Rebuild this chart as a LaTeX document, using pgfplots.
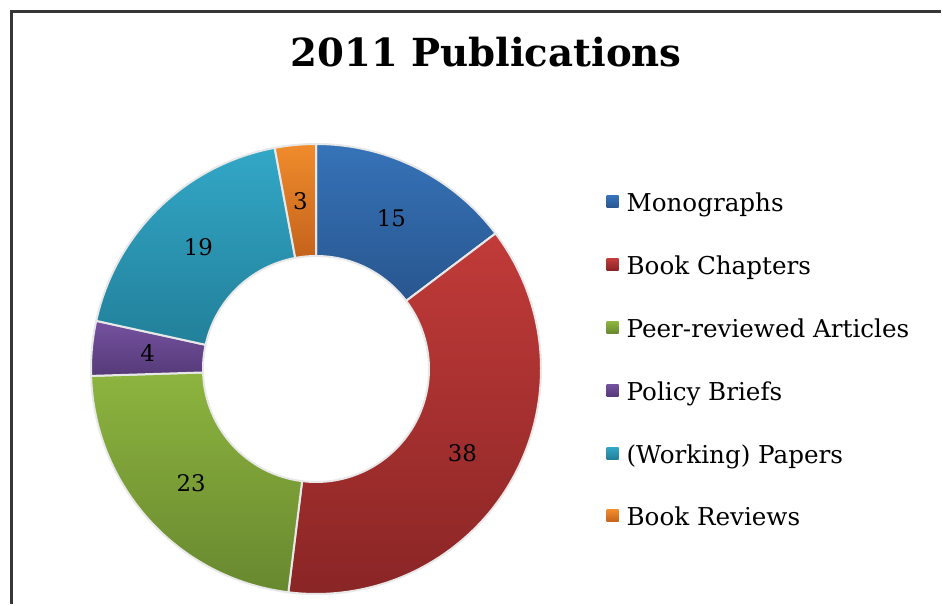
\documentclass[border=0pt]{standalone}
\usepackage{pgfplots}
\pgfplotsset{compat=1.18}
\usepackage{pgfplotstable}
\usepackage{fontspec}
\setmainfont{DejaVu Serif}
\definecolor{blueT}{HTML}{3673B8}
\definecolor{blueB}{HTML}{28568F}
\definecolor{redT}{HTML}{C13B39}
\definecolor{redB}{HTML}{892525}
\definecolor{greenT}{HTML}{8DB43F}
\definecolor{greenB}{HTML}{68882F}
\definecolor{purpleT}{HTML}{7552A0}
\definecolor{purpleB}{HTML}{553A78}
\definecolor{tealT}{HTML}{33A7C7}
\definecolor{tealB}{HTML}{22809A}
\definecolor{orangeT}{HTML}{F08C2C}
\definecolor{orangeB}{HTML}{C4621C}
\definecolor{sepcol}{HTML}{E8E8E8}
\definecolor{framecol}{HTML}{363636}

\pgfplotstableread{
idx value
0 15
1 38
2 23
3 4
4 19
5 3
}\pubtable

\newcommand\slice[4]{%
  \path[top color=#3, bottom color=#4, draw=sepcol, line width=0.04cm, line join=round]
    ([shift={(#1:4.5cm)}]axis cs:316,-369) arc[start angle=#1, end angle=#2, radius=4.5cm]
    -- ([shift={(#2:2.26cm)}]axis cs:316,-369) arc[start angle=#2, end angle=#1, radius=2.26cm] -- cycle;}
\newcommand\slicelabel[3]{%
  \node[font=\fontsize{13pt}{15pt}\selectfont, inner sep=0pt] at ([shift={({(#1+#2)/2}:3.38cm)}]axis cs:316,-369) {#3};}

\begin{document}
\begin{tikzpicture}
\pgfplotstablegetelem{0}{value}\of\pubtable \let\vA\pgfplotsretval
\pgfplotstablegetelem{1}{value}\of\pubtable \let\vB\pgfplotsretval
\pgfplotstablegetelem{2}{value}\of\pubtable \let\vC\pgfplotsretval
\pgfplotstablegetelem{3}{value}\of\pubtable \let\vD\pgfplotsretval
\pgfplotstablegetelem{4}{value}\of\pubtable \let\vE\pgfplotsretval
\pgfplotstablegetelem{5}{value}\of\pubtable \let\vF\pgfplotsretval
\pgfmathsetmacro\tot{\vA+\vB+\vC+\vD+\vE+\vF}
\pgfmathsetmacro\aA{90}
\pgfmathsetmacro\aB{\aA-\vA*360/\tot}
\pgfmathsetmacro\aC{\aB-\vB*360/\tot}
\pgfmathsetmacro\aD{\aC-\vC*360/\tot}
\pgfmathsetmacro\aE{\aD-\vD*360/\tot}
\pgfmathsetmacro\aF{\aE-\vE*360/\tot}
\pgfmathsetmacro\aG{\aF-\vF*360/\tot}
\begin{axis}[
  scale only axis, width=18.86cm, height=12.08cm,
  xmin=0, xmax=943, ymin=-604, ymax=0,
  hide axis, clip=false,
  legend style={at={(axis cs:601,-190)}, anchor=north west, draw=none, fill=none,
    font=\fontsize{14pt}{16pt}\selectfont, row sep=0.756cm, column sep=0.16cm,
    nodes={inner sep=0pt, text height=0.36cm, text depth=0.14cm}},
  legend cell align=left,
  legend image code/.code={\path[#1] (0cm,-0.03cm) rectangle (0.24cm,0.21cm);},
]
\path (axis cs:0,0) rectangle (axis cs:943,-604);
\draw[framecol, line width=0.054cm] (axis cs:941,-11.3) -- (axis cs:11.3,-11.3) -- (axis cs:11.3,-604);
\node[anchor=base, font=\fontsize{22pt}{26pt}\selectfont\bfseries] at (axis cs:486,-67) {2011 Publications};
\slice{\aA}{\aB}{blueT}{blueB}
\slice{\aB}{\aC}{redT}{redB}
\slice{\aC}{\aD}{greenT}{greenB}
\slice{\aD}{\aE}{purpleT}{purpleB}
\slice{\aE}{\aF}{tealT}{tealB}
\slice{\aF}{\aG}{orangeT}{orangeB}
\slicelabel{\aA}{\aB}{\vA}
\slicelabel{\aB}{\aC}{\vB}
\slicelabel{\aC}{\aD}{\vC}
\slicelabel{\aD}{\aE}{\vD}
\slicelabel{\aE}{\aF}{\vE}
\slicelabel{\aF}{\aG}{\vF}
\addlegendimage{top color=blueT, bottom color=blueB, draw=none}
\addlegendimage{top color=redT, bottom color=redB, draw=none}
\addlegendimage{top color=greenT, bottom color=greenB, draw=none}
\addlegendimage{top color=purpleT, bottom color=purpleB, draw=none}
\addlegendimage{top color=tealT, bottom color=tealB, draw=none}
\addlegendimage{top color=orangeT, bottom color=orangeB, draw=none}
\legend{Monographs, Book Chapters, Peer-reviewed Articles, Policy Briefs, (Working) Papers, Book Reviews}
\end{axis}
\end{tikzpicture}
\end{document}
